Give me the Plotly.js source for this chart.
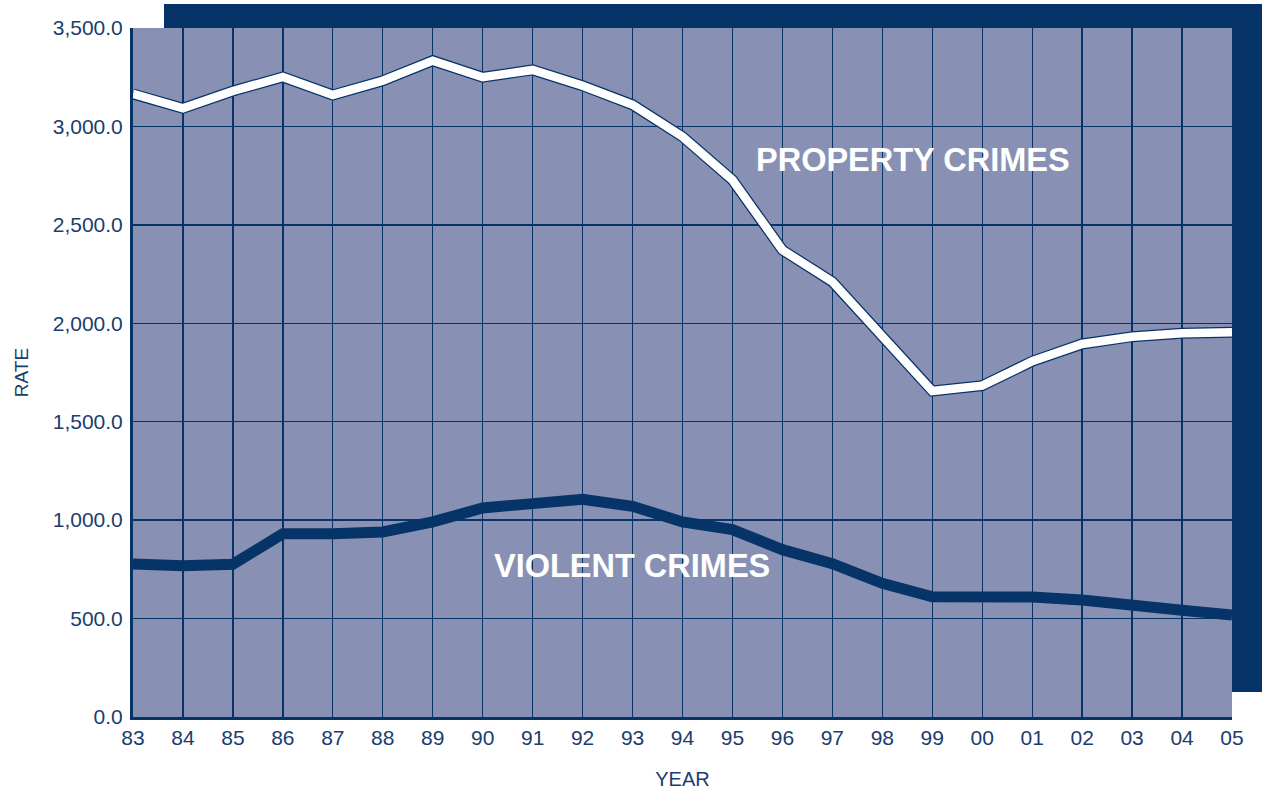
<!DOCTYPE html>
<html>
<head>
<meta charset="utf-8">
<script src="https://cdn.plot.ly/plotly-3.0.1.min.js"></script>
<style>
  html, body { margin: 0; padding: 0; background: #ffffff; }
  #chart { width: 1265px; height: 792px; }
</style>
</head>
<body>
<div id="chart"></div>
<script>
// ---- data ----
const years = [1983, 1984, 1985, 1986, 1987, 1988, 1989, 1990, 1991, 1992, 1993, 1994,
               1995, 1996, 1997, 1998, 1999, 2000, 2001, 2002, 2003, 2004, 2005];
const yearLabels = ['83', '84', '85', '86', '87', '88', '89', '90', '91', '92', '93', '94',
                    '95', '96', '97', '98', '99', '00', '01', '02', '03', '04', '05'];
const propertyRates = [3165, 3092, 3180, 3251, 3160, 3232, 3334, 3250, 3287, 3207, 3110, 2948,
                       2728, 2372, 2211, 1940, 1656, 1683, 1807, 1895, 1932, 1949, 1954];
const violentRates = [777, 768, 776, 931, 931, 940, 991, 1062, 1084, 1106, 1070, 991,
                      952, 850, 779, 679, 611, 613, 609, 594, 574, 542, 518];
const yTicks = [0, 500, 1000, 1500, 2000, 2500, 3000, 3500];
const seriesNames = ['PROPERTY CRIMES', 'VIOLENT CRIMES'];

// ---- style ----
const NAVY = '#063468';
const TEXT = '#1b3d6e';
const PLOTBG = '#8891b4';
const FONT = 'Liberation Sans, Arial, Helvetica, sans-serif';

const traces = [
  { x: years, y: propertyRates, type: 'scatter', mode: 'lines', name: seriesNames[0] + ' outline',
    line: { color: NAVY, width: 11 }, hoverinfo: 'skip', showlegend: false },
  { x: years, y: propertyRates, type: 'scatter', mode: 'lines', name: seriesNames[0],
    line: { color: '#ffffff', width: 8.5 }, showlegend: false },
  { x: years, y: violentRates, type: 'scatter', mode: 'lines', name: seriesNames[1],
    line: { color: NAVY, width: 11 }, showlegend: false }
];

const layout = {
  width: 1265, height: 792,
  margin: { l: 133, r: 33, t: 28, b: 75, pad: 0 },
  paper_bgcolor: '#ffffff',
  plot_bgcolor: 'rgba(0,0,0,0)',
  font: { family: FONT, color: TEXT, size: 21 },
  showlegend: false,
  xaxis: {
    type: 'linear',
    range: [years[0], years[years.length - 1]],
    tickvals: years, ticktext: yearLabels,
    showgrid: true, gridcolor: NAVY, gridwidth: 1.3,
    zeroline: false,
    showline: true, linecolor: NAVY, linewidth: 3,
    ticks: '', ticklabelstandoff: 0,
    tickfont: { family: FONT, size: 21, color: TEXT },
    title: { text: 'YEAR', font: { family: FONT, size: 20, color: TEXT }, standoff: 24 },
    automargin: false, fixedrange: true
  },
  yaxis: {
    range: [0, 3500],
    tickvals: yTicks, tickformat: ',.1f',
    showgrid: true, gridcolor: NAVY, gridwidth: 1.3,
    zeroline: false,
    showline: true, linecolor: NAVY, linewidth: 3,
    ticks: '', ticklabelstandoff: 3,
    tickfont: { family: FONT, size: 21, color: TEXT },
    title: { text: 'RATE', font: { family: FONT, size: 19, color: TEXT }, standoff: 20 },
    automargin: false, fixedrange: true
  },
  shapes: [
    { type: 'rect', xref: 'paper', yref: 'paper', layer: 'below',
      x0: 0.0282, x1: 1.0273, y0: 0.0363, y1: 1.0348,
      fillcolor: NAVY, line: { width: 0 } },
    { type: 'rect', xref: 'paper', yref: 'paper', layer: 'below',
      x0: 0, x1: 1, y0: 0, y1: 1,
      fillcolor: PLOTBG, line: { width: 0 } }
  ],
  annotations: [
    { x: 1998.62, y: 2830, xref: 'x', yref: 'y', text: seriesNames[0], showarrow: false,
      xanchor: 'center', yanchor: 'middle',
      font: { family: FONT, size: 32.5, color: '#ffffff', weight: 'bold' } },
    { x: 1992.98, y: 767, xref: 'x', yref: 'y', text: seriesNames[1], showarrow: false,
      xanchor: 'center', yanchor: 'middle',
      font: { family: FONT, size: 32.5, color: '#ffffff', weight: 'bold' } }
  ]
};

Plotly.newPlot('chart', traces, layout, { displayModeBar: false, staticPlot: true });
</script>
</body>
</html>
